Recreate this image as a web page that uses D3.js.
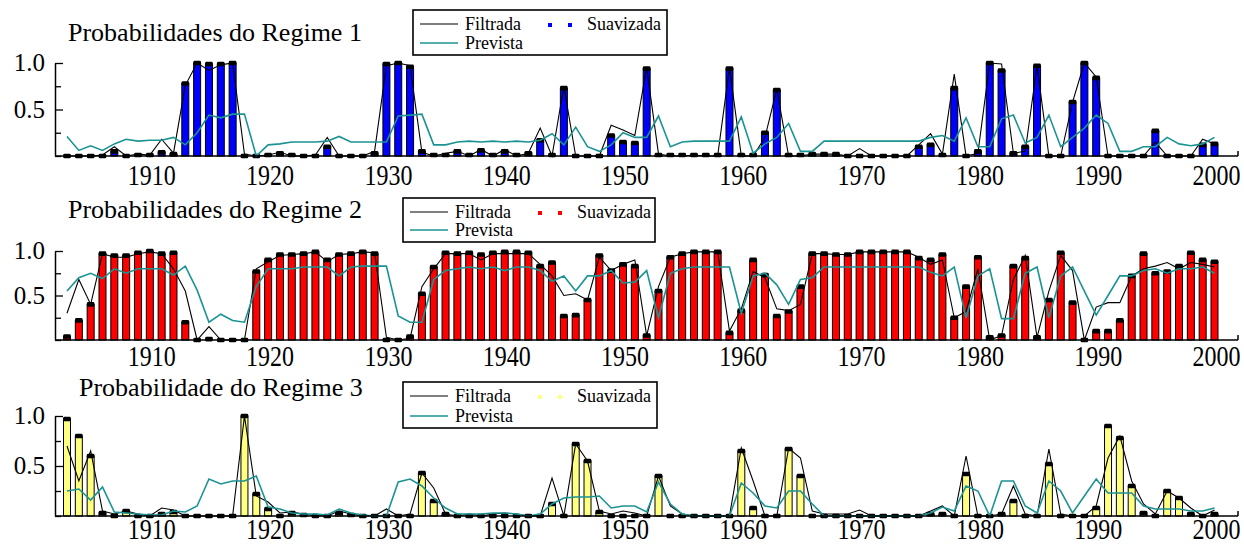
<!DOCTYPE html>
<html>
<head>
<meta charset="utf-8">
<script src="https://cdn.jsdelivr.net/npm/d3@7"></script>
<style>
  html, body { margin: 0; padding: 0; background: #fff; }
  svg { display: block; }
  svg text { font-family: "Liberation Serif", "DejaVu Serif", serif; fill: #000; }
</style>
</head>
<body>
<svg id="chart" width="1244" height="546" font-family="Liberation Serif, serif"></svg>
<script>
// Annual observations, 1903-2000
const years = d3.range(1903, 2001);
const yearTicks = [1910, 1920, 1930, 1940, 1950, 1960, 1970, 1980, 1990, 2000];
const probTicks = [0, 0.25, 0.5, 0.75, 1];
const probLabels = [{ v: 1, label: "1.0" }, { v: 0.5, label: "0.5" }];
const titles = ["Probabilidades do Regime 1", "Probabilidades do Regime 2", "Probabilidade do Regime 3"];
const legendNames = { filtered: "Filtrada", smoothed: "Suavizada", predicted: "Prevista" };

// Regime 1
const smoothed1 = [
  0, 0, 0, 0, 0.05, 0, 0.01, 0.01, 0.04, 0.02,
  0.78, 1.0, 0.99, 0.99, 1.0, 0, 0, 0.01, 0.03, 0.01,
  0, 0, 0.1, 0, 0, 0, 0.03, 0.99, 1.0, 0.96,
  0.05, 0.01, 0.01, 0.05, 0.01, 0.06, 0.01, 0.05, 0.01, 0.03,
  0.17, 0.01, 0.73, 0, 0, 0, 0.22, 0.15, 0.14, 0.94,
  0.01, 0.01, 0.01, 0.01, 0.01, 0.01, 0.94, 0.01, 0.01, 0.25,
  0.71, 0.01, 0.01, 0.02, 0.02, 0.02, 0, 0, 0, 0,
  0, 0, 0.1, 0.12, 0.01, 0.73, 0, 0.05, 1.0, 0.92,
  0.03, 0.1, 0.97, 0, 0, 0.58, 1.0, 0.84, 0, 0,
  0, 0, 0.27, 0, 0, 0, 0.12, 0.13
];
const filtered1 = [
  0, 0, 0, 0.01, 0.1, 0, 0.02, 0.01, 0.18, 0.03,
  0.76, 1.0, 0.92, 0.98, 1.0, 0.02, 0, 0.01, 0.04, 0,
  0, 0.01, 0.2, 0, 0, 0, 0.05, 0.97, 1.0, 0.97,
  0.04, 0, 0.03, 0.05, 0, 0.07, 0, 0.07, 0, 0.03,
  0.3, 0, 0.75, 0, 0, 0, 0.33, 0.28, 0.22, 0.95,
  0.02, 0, 0, 0.01, 0, 0, 0.95, 0, 0, 0.2,
  0.72, 0, 0, 0.02, 0.02, 0.02, 0, 0.08, 0, 0,
  0, 0, 0.12, 0.24, 0.02, 0.88, 0, 0.03, 1.0, 0.99,
  0.03, 0.05, 0.97, 0, 0, 0.58, 1.0, 0.85, 0, 0,
  0, 0, 0.15, 0, 0, 0, 0.18, 0.13
];
const predicted1 = [
  0.21, 0.06, 0.11, 0.06, 0.13, 0.18, 0.16, 0.17, 0.17, 0.2,
  0.12, 0.25, 0.44, 0.41, 0.45, 0.45, 0, 0.12, 0.13, 0.15,
  0.15, 0.15, 0.16, 0.21, 0.15, 0.15, 0.15, 0.15, 0.43, 0.44,
  0.45, 0.12, 0.12, 0.15, 0.16, 0.15, 0.16, 0.15, 0.16, 0.15,
  0.17, 0.24, 0.12, 0.31, 0.1, 0.05, 0.12, 0.25, 0.2, 0.2,
  0.43, 0.1, 0.15, 0.16, 0.16, 0.16, 0.16, 0.42, 0.03, 0.13,
  0.2, 0.35, 0.05, 0.05, 0.16, 0.16, 0.16, 0.16, 0.16, 0.16,
  0.16, 0.16, 0.16, 0.2, 0.22, 0.16, 0.41, 0.1, 0.1, 0.4,
  0.44, 0.14, 0.2, 0.44, 0.1, 0.2, 0.3, 0.44, 0.35, 0.05,
  0.05, 0.1, 0.1, 0.2, 0.13, 0.11, 0.13, 0.2
];

// Regime 2
const smoothed2 = [
  0.04, 0.22, 0.4, 0.97, 0.95, 0.95, 0.98, 1.0, 0.97, 0.98,
  0.2, 0, 0.01, 0, 0, 0, 0.77, 0.9, 0.96, 0.96,
  0.97, 0.99, 0.9, 0.96, 0.97, 0.99, 0.97, 0, 0, 0.04,
  0.52, 0.82, 0.98, 0.97, 0.98, 0.96, 0.98, 0.99, 0.99, 0.98,
  0.83, 0.87, 0.27, 0.28, 0.45, 0.95, 0.78, 0.85, 0.83, 0.05,
  0.55, 0.93, 0.97, 0.99, 0.99, 0.99, 0.08, 0.33, 0.9, 0.73,
  0.27, 0.32, 0.6, 0.97, 0.97, 0.96, 0.96, 0.99, 0.99, 0.99,
  0.99, 0.99, 0.92, 0.9, 0.96, 0.25, 0.6, 0.93, 0.03, 0.05,
  0.83, 0.92, 0.03, 0.45, 0.98, 0.42, 0, 0.1, 0.1, 0.22,
  0.72, 0.97, 0.75, 0.77, 0.83, 0.98, 0.9, 0.88
];
const filtered2 = [
  0.3, 0.68, 0.4, 0.97, 0.93, 0.93, 0.97, 0.99, 0.97, 0.8,
  0.55, 0, 0.15, 0, 0, 0, 0.8, 0.88, 0.95, 0.96,
  0.97, 0.99, 0.88, 0.96, 0.97, 0.99, 0.98, 0.03, 0, 0.02,
  0.6, 0.8, 0.97, 0.97, 0.97, 0.9, 0.97, 0.97, 0.97, 0.97,
  0.85, 0.72, 0.5, 0.52, 0.45, 0.93, 0.78, 0.85, 0.9, 0.05,
  0.6, 0.93, 0.97, 0.99, 0.99, 0.99, 0.1, 0.35, 0.77, 0.7,
  0.35, 0.33, 0.4, 0.97, 0.97, 0.96, 0.96, 0.99, 0.99, 0.99,
  0.99, 0.99, 0.93, 0.85, 0.9, 0.25, 0.32, 0.8, 0, 0.05,
  0.68, 0.95, 0.03, 0.55, 0.95, 0.78, 0, 0.37, 0.42, 0.42,
  0.72, 0.8, 0.83, 0.87, 0.8, 0.87, 0.85, 0.82
];
const predicted2 = [
  0.55, 0.7, 0.75, 0.69, 0.8, 0.75, 0.8, 0.8, 0.8, 0.73,
  0.83, 0.56, 0.2, 0.29, 0.22, 0.2, 0.6, 0.8, 0.8, 0.8,
  0.82, 0.82, 0.82, 0.72, 0.82, 0.83, 0.83, 0.83, 0.27, 0.2,
  0.2, 0.68, 0.78, 0.8, 0.82, 0.8, 0.82, 0.78, 0.82, 0.82,
  0.78, 0.66, 0.72, 0.55, 0.72, 0.72, 0.78, 0.64, 0.65, 0.78,
  0.25, 0.75, 0.8, 0.82, 0.82, 0.82, 0.82, 0.3, 0.72, 0.75,
  0.62, 0.4, 0.68, 0.7, 0.82, 0.82, 0.82, 0.82, 0.82, 0.82,
  0.82, 0.82, 0.82, 0.76, 0.72, 0.82, 0.25, 0.72, 0.8, 0.24,
  0.24, 0.75, 0.82, 0.25, 0.72, 0.82, 0.55, 0.28, 0.5, 0.72,
  0.72, 0.78, 0.8, 0.75, 0.8, 0.8, 0.82, 0.75
];

// Regime 3
const smoothed3 = [
  0.97, 0.8, 0.6, 0.03, 0, 0.05, 0, 0, 0.02, 0.04,
  0, 0, 0, 0, 0, 1.0, 0.22, 0.07, 0, 0.03,
  0.01, 0, 0, 0.03, 0.01, 0, 0, 0, 0, 0,
  0.43, 0.15, 0.02, 0, 0, 0, 0, 0, 0, 0,
  0, 0.12, 0, 0.72, 0.55, 0.04, 0, 0, 0, 0,
  0.4, 0, 0, 0, 0, 0, 0, 0.65, 0.08, 0,
  0, 0.67, 0.4, 0, 0, 0, 0, 0, 0, 0,
  0, 0, 0, 0.02, 0.02, 0, 0.42, 0, 0, 0.02,
  0.15, 0, 0, 0.52, 0, 0, 0, 0.08, 0.9, 0.78,
  0.3, 0.03, 0, 0.25, 0.18, 0.02, 0, 0.02
];
const filtered3 = [
  0.7, 0.35, 0.65, 0.05, 0.02, 0.05, 0.02, 0, 0.08, 0.06,
  0, 0, 0, 0, 0, 1.0, 0.2, 0.14, 0.03, 0.04,
  0.02, 0, 0, 0.05, 0.02, 0, 0, 0.07, 0, 0.02,
  0.43, 0.28, 0.02, 0, 0.02, 0, 0.02, 0.03, 0.02, 0,
  0, 0.38, 0, 0.72, 0.55, 0.05, 0.02, 0.05, 0.03, 0,
  0.4, 0.1, 0.02, 0, 0, 0, 0, 0.68, 0.35, 0,
  0, 0.68, 0.58, 0.05, 0.02, 0.02, 0.02, 0.06, 0, 0,
  0, 0, 0, 0.05, 0.1, 0, 0.6, 0, 0, 0.02,
  0.3, 0.02, 0, 0.67, 0.02, 0, 0, 0.1, 0.58, 0.8,
  0.35, 0.12, 0.02, 0.25, 0.18, 0.08, 0, 0.06
];
const predicted3 = [
  0.25, 0.27, 0.16, 0.29, 0.04, 0.03, 0.02, 0.01, 0.01, 0.05,
  0.04, 0.1, 0.37, 0.32, 0.35, 0.35, 0.4, 0.09, 0.07, 0.03,
  0.02, 0.02, 0.01, 0.07, 0.03, 0.01, 0, 0, 0.34, 0.37,
  0.3, 0.18, 0.08, 0.02, 0.02, 0.02, 0.03, 0.03, 0.02, 0,
  0.02, 0.12, 0.18, 0.19, 0.19, 0.2, 0.08, 0.1, 0.1, 0.04,
  0.34, 0.12, 0.02, 0, 0, 0, 0, 0.33, 0.23, 0.1,
  0.08, 0.25, 0.25, 0.12, 0, 0, 0, 0, 0, 0,
  0, 0, 0, 0.03, 0.09, 0.05, 0.3, 0.25, 0, 0.35,
  0.35, 0.1, 0.03, 0.35, 0.25, 0.03, 0.2, 0.37, 0.23, 0.23,
  0.23, 0.1, 0.07, 0.07, 0.07, 0.05, 0.05, 0.08
];

// Panel layout (pixel geometry of each stacked plot)
const panels = [
  { title: titles[0], smoothed: smoothed1, filtered: filtered1, predicted: predicted1, color: "#0000ff",
    top: 63, base: 156, titleX: 68, titleY: 41, legend: { x: 413, y: 10, w: 254, h: 45 }, yearY: 185 },
  { title: titles[1], smoothed: smoothed2, filtered: filtered2, predicted: predicted2, color: "#ff0000",
    top: 251, base: 340, titleX: 68, titleY: 218, legend: { x: 403, y: 198, w: 252, h: 44 }, yearY: 366 },
  { title: titles[2], smoothed: smoothed3, filtered: filtered3, predicted: predicted3, color: "#ffff80",
    top: 416, base: 516, titleX: 79, titleY: 396, legend: { x: 403, y: 382, w: 254, h: 46 }, yearY: 539 }
];

const serif = "Liberation Serif, serif";
const axisLeft = 55, axisRight = 1238;
const predictedColor = "#1b9393";
const barW = 7;

const svg = d3.select("#chart");
const x = d3.scaleLinear().domain([1903, 2000]).range([67, 1214.5]);

panels.forEach(p => {
  const g = svg.append("g");
  const y = d3.scaleLinear().domain([0, 1]).range([p.base, p.top]);
  const rows = years.map((yr, i) => ({ year: yr, s: p.smoothed[i], f: p.filtered[i], q: p.predicted[i] }));

  // title
  g.append("text").attr("x", p.titleX).attr("y", p.titleY)
    .attr("font-family", serif).attr("font-size", 26).text(p.title);

  // smoothed probabilities as bars
  g.append("g").selectAll("rect").data(rows).join("rect")
    .attr("x", d => x(d.year) - barW / 2)
    .attr("y", d => y(d.s))
    .attr("width", barW)
    .attr("height", d => p.base - y(d.s))
    .attr("fill", p.color)
    .attr("stroke", "#000")
    .attr("stroke-width", 1);

  // filtered probabilities
  g.append("path").datum(rows)
    .attr("fill", "none").attr("stroke", "#000").attr("stroke-width", 1.1)
    .attr("d", d3.line().x(d => x(d.year)).y(d => y(d.f)));

  // caps on top of the bars
  g.append("g").selectAll("rect").data(rows).join("rect")
    .attr("x", d => x(d.year) - barW / 2 - 0.3)
    .attr("y", d => y(d.s) - 2.3)
    .attr("width", barW + 0.6)
    .attr("height", 4.6)
    .attr("rx", 1.3)
    .attr("fill", "#000");

  // one-step predicted probabilities
  g.append("path").datum(rows)
    .attr("fill", "none").attr("stroke", predictedColor).attr("stroke-width", 1.6)
    .attr("d", d3.line().x(d => x(d.year)).y(d => y(d.q)));

  // y axis with inward ticks
  const ya = g.append("g").attr("transform", `translate(${axisLeft},0)`)
    .call(d3.axisRight(y).tickValues(probTicks).tickSize(6).tickSizeOuter(0).tickFormat(""));
  ya.select(".domain").attr("stroke", "#000").attr("stroke-width", 1.5);
  ya.selectAll(".tick line").attr("stroke", "#000").attr("stroke-width", 1.3)
    .attr("x2", d => (d === 1 || d === 0.5) ? 8 : 6);

  g.selectAll(".ylab").data(probLabels).join("text")
    .attr("class", "ylab")
    .attr("x", 45).attr("y", d => y(d.v) + 8)
    .attr("text-anchor", "end").attr("font-family", serif).attr("font-size", 25)
    .text(d => d.label);

  // x axis baseline
  g.append("line").attr("x1", axisLeft).attr("x2", axisRight)
    .attr("y1", p.base).attr("y2", p.base)
    .attr("stroke", "#000").attr("stroke-width", 1.5);
  g.append("line").attr("x1", axisRight).attr("x2", axisRight)
    .attr("y1", p.base).attr("y2", p.base - 5)
    .attr("stroke", "#000").attr("stroke-width", 1.5);

  // year labels
  g.selectAll(".xlab").data(yearTicks).join("text")
    .attr("class", "xlab")
    .attr("transform", d => `translate(${x(d) + 2},${p.yearY}) scale(1,1.2)`)
    .attr("text-anchor", "middle").attr("font-family", serif).attr("font-size", 24)
    .text(d => d);

  // legend
  const L = p.legend;
  const lg = g.append("g").attr("transform", `translate(${L.x},${L.y})`);
  lg.append("rect").attr("width", L.w).attr("height", L.h)
    .attr("fill", "#fff").attr("stroke", "#000").attr("stroke-width", 1.6);
  const r1 = 14, r2 = L.h - 12;
  lg.append("line").attr("x1", 7).attr("x2", 45).attr("y1", r1).attr("y2", r1)
    .attr("stroke", "#000").attr("stroke-width", 1.1);
  lg.append("text").attr("x", 52).attr("y", r1 + 5.5)
    .attr("font-family", serif).attr("font-size", 18).text(legendNames.filtered);
  [137, 157].forEach(cx => lg.append("rect")
    .attr("x", cx - 2).attr("y", r1 - 1).attr("width", 4).attr("height", 4).attr("fill", p.color));
  lg.append("text").attr("x", 174).attr("y", r1 + 5.5)
    .attr("font-family", serif).attr("font-size", 18).text(legendNames.smoothed);
  lg.append("line").attr("x1", 7).attr("x2", 45).attr("y1", r2).attr("y2", r2)
    .attr("stroke", predictedColor).attr("stroke-width", 1.6);
  lg.append("text").attr("x", 52).attr("y", r2 + 5.5)
    .attr("font-family", serif).attr("font-size", 18).text(legendNames.predicted);
});
</script>
</body>
</html>
